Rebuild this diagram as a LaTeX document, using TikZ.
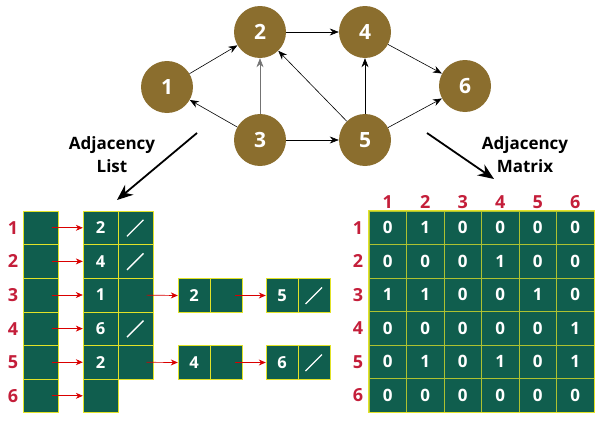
\documentclass[tikz,border=0pt]{standalone}
\usepackage{fontspec}
\setmainfont{Open Sans}
\usetikzlibrary{arrows.meta}

\definecolor{nodebrown}{RGB}{139,110,46}
\definecolor{cellgreen}{RGB}{16,94,78}
\definecolor{cellborder}{RGB}{226,226,40}
\definecolor{labelred}{RGB}{196,30,58}

\tikzset{
  vertex/.style={circle, fill=nodebrown, text=white, minimum size=52pt, inner sep=0pt,
    font=\fontsize{21}{24}\selectfont\bfseries},
  link/.style={-{Stealth[length=9pt,width=7pt]}, line width=0.6pt},
  bigarrow/.style={-{Stealth[length=16pt,width=13pt]}, line width=1.8pt},
  caption/.style={align=center, font=\fontsize{17}{23}\selectfont\bfseries},
  listcell/.style={draw=cellborder, fill=cellgreen, text=white, minimum width=35pt,
    minimum height=33.6pt, inner sep=0pt, font=\fontsize{16.5}{20}\selectfont\bfseries},
  smallcell/.style={listcell, minimum width=32pt, minimum height=34pt},
  nil/.style={path picture={\draw[white, line width=1.3pt]
    ([shift={(-8.5pt,-8.5pt)}]path picture bounding box.center) --
    ([shift={(8pt,8pt)}]path picture bounding box.center);}},
  ptr/.style={-{Stealth[length=7pt,width=6pt]}, red!85!black, line width=0.7pt, shorten <=11pt},
  rowlabel/.style={text=labelred, font=\fontsize{18}{20}\selectfont\bfseries},
  matcell/.style={draw=cellborder!75!cellgreen, fill=cellgreen, text=white, minimum width=37.5pt,
    minimum height=33.5pt, inner sep=0pt, font=\fontsize{17}{20}\selectfont\bfseries}
}

\begin{document}
\begin{tikzpicture}[x=1pt, y=-1pt]

\useasboundingbox (0,0) rectangle (603,423);

% Graph
\node[vertex] (n1) at (167,87) {1};
\node[vertex] (n2) at (260,32) {2};
\node[vertex] (n4) at (365,32) {4};
\node[vertex] (n6) at (465,86) {6};
\node[vertex] (n3) at (260,140) {3};
\node[vertex] (n5) at (365,140) {5};

\draw[link] (n1) -- (n2);
\draw[link] (n2) -- (n4);
\draw[link] (n4) -- (n6);
\draw[link] (n3) -- (n1);
\draw[link, black!55] (n3) -- (n2);
\draw[link] (n3) -- (n5);
\draw[link] (n5) -- (n2);
\draw[link] (n5) -- (n4);
\draw[link] (n5) -- (n6);

% Captions
\node[caption] (listlbl) at (112,155) {Adjacency\\List};
\node[caption] (matlbl) at (525,155) {Adjacency\\Matrix};

\coordinate (lstart) at (197,133);
\coordinate (lend) at (117,200);
\draw[bigarrow] (lstart) -- (lend);

\coordinate (rstart) at (427,133);
\coordinate (rend) at (494,179);
\draw[bigarrow] (rstart) -- (rend);

% Adjacency list: heads
\foreach \i in {1,...,6} {
  \node[rowlabel] (hl\i) at (13,{211+33.6*(\i-0.5)}) {\i};
  \node[listcell] (h\i) at (40.5,{211+33.6*(\i-0.5)}) {};
}

% Adjacency list: first elements
\foreach \i/\v in {1/2,2/4,3/1,4/6,5/2,6/{}} {
  \node[listcell] (a\i) at (100.5,{211+33.6*(\i-0.5)}) {\v};
  \draw[ptr] (h\i.center) -- (a\i.west);
}
\node[listcell, nil] (p1) at (135.5,227.8) {};
\node[listcell, nil] (p2) at (135.5,261.4) {};
\node[listcell] (p3) at (135.5,295.0) {};
\node[listcell, nil] (p4) at (135.5,328.6) {};
\node[listcell] (p5) at (135.5,362.2) {};

% Row 3 chain
\node[smallcell] (b3) at (194,295.5) {2};
\node[smallcell] (q3) at (226,295.5) {};
\node[smallcell] (c3) at (282,295.5) {5};
\node[smallcell, nil] (r3) at (314,295.5) {};
\draw[ptr] (p3.center) -- (b3.west);
\draw[ptr, shorten <=9pt] (q3.center) -- (c3.west);

% Row 5 chain
\node[smallcell] (b5) at (194,362.5) {4};
\node[smallcell] (q5) at (226,362.5) {};
\node[smallcell] (c5) at (282,362.5) {6};
\node[smallcell, nil] (r5) at (314,362.5) {};
\draw[ptr] (p5.center) -- (b5.west);
\draw[ptr, shorten <=9pt] (q5.center) -- (c5.west);

% Adjacency matrix
\foreach \c in {1,...,6}
  \node[rowlabel] (cl\c) at ({369+37.5*(\c-0.5)},202) {\c};
\foreach \r/\vals in {1/{0,1,0,0,0,0}, 2/{0,0,0,1,0,0}, 3/{1,1,0,0,1,0},
                      4/{0,0,0,0,0,1}, 5/{0,1,0,1,0,1}, 6/{0,0,0,0,0,0}} {
  \node[rowlabel] (rl\r) at (358,{211+33.5*(\r-0.5)}) {\r};
  \foreach \v [count=\c] in \vals
    \node[matcell] (m\r\c) at ({369+37.5*(\c-0.5)},{211+33.5*(\r-0.5)}) {\v};
}
\draw[cellborder, line width=1.2pt] (m11.north west) rectangle (m66.south east);

\end{tikzpicture}
\end{document}
